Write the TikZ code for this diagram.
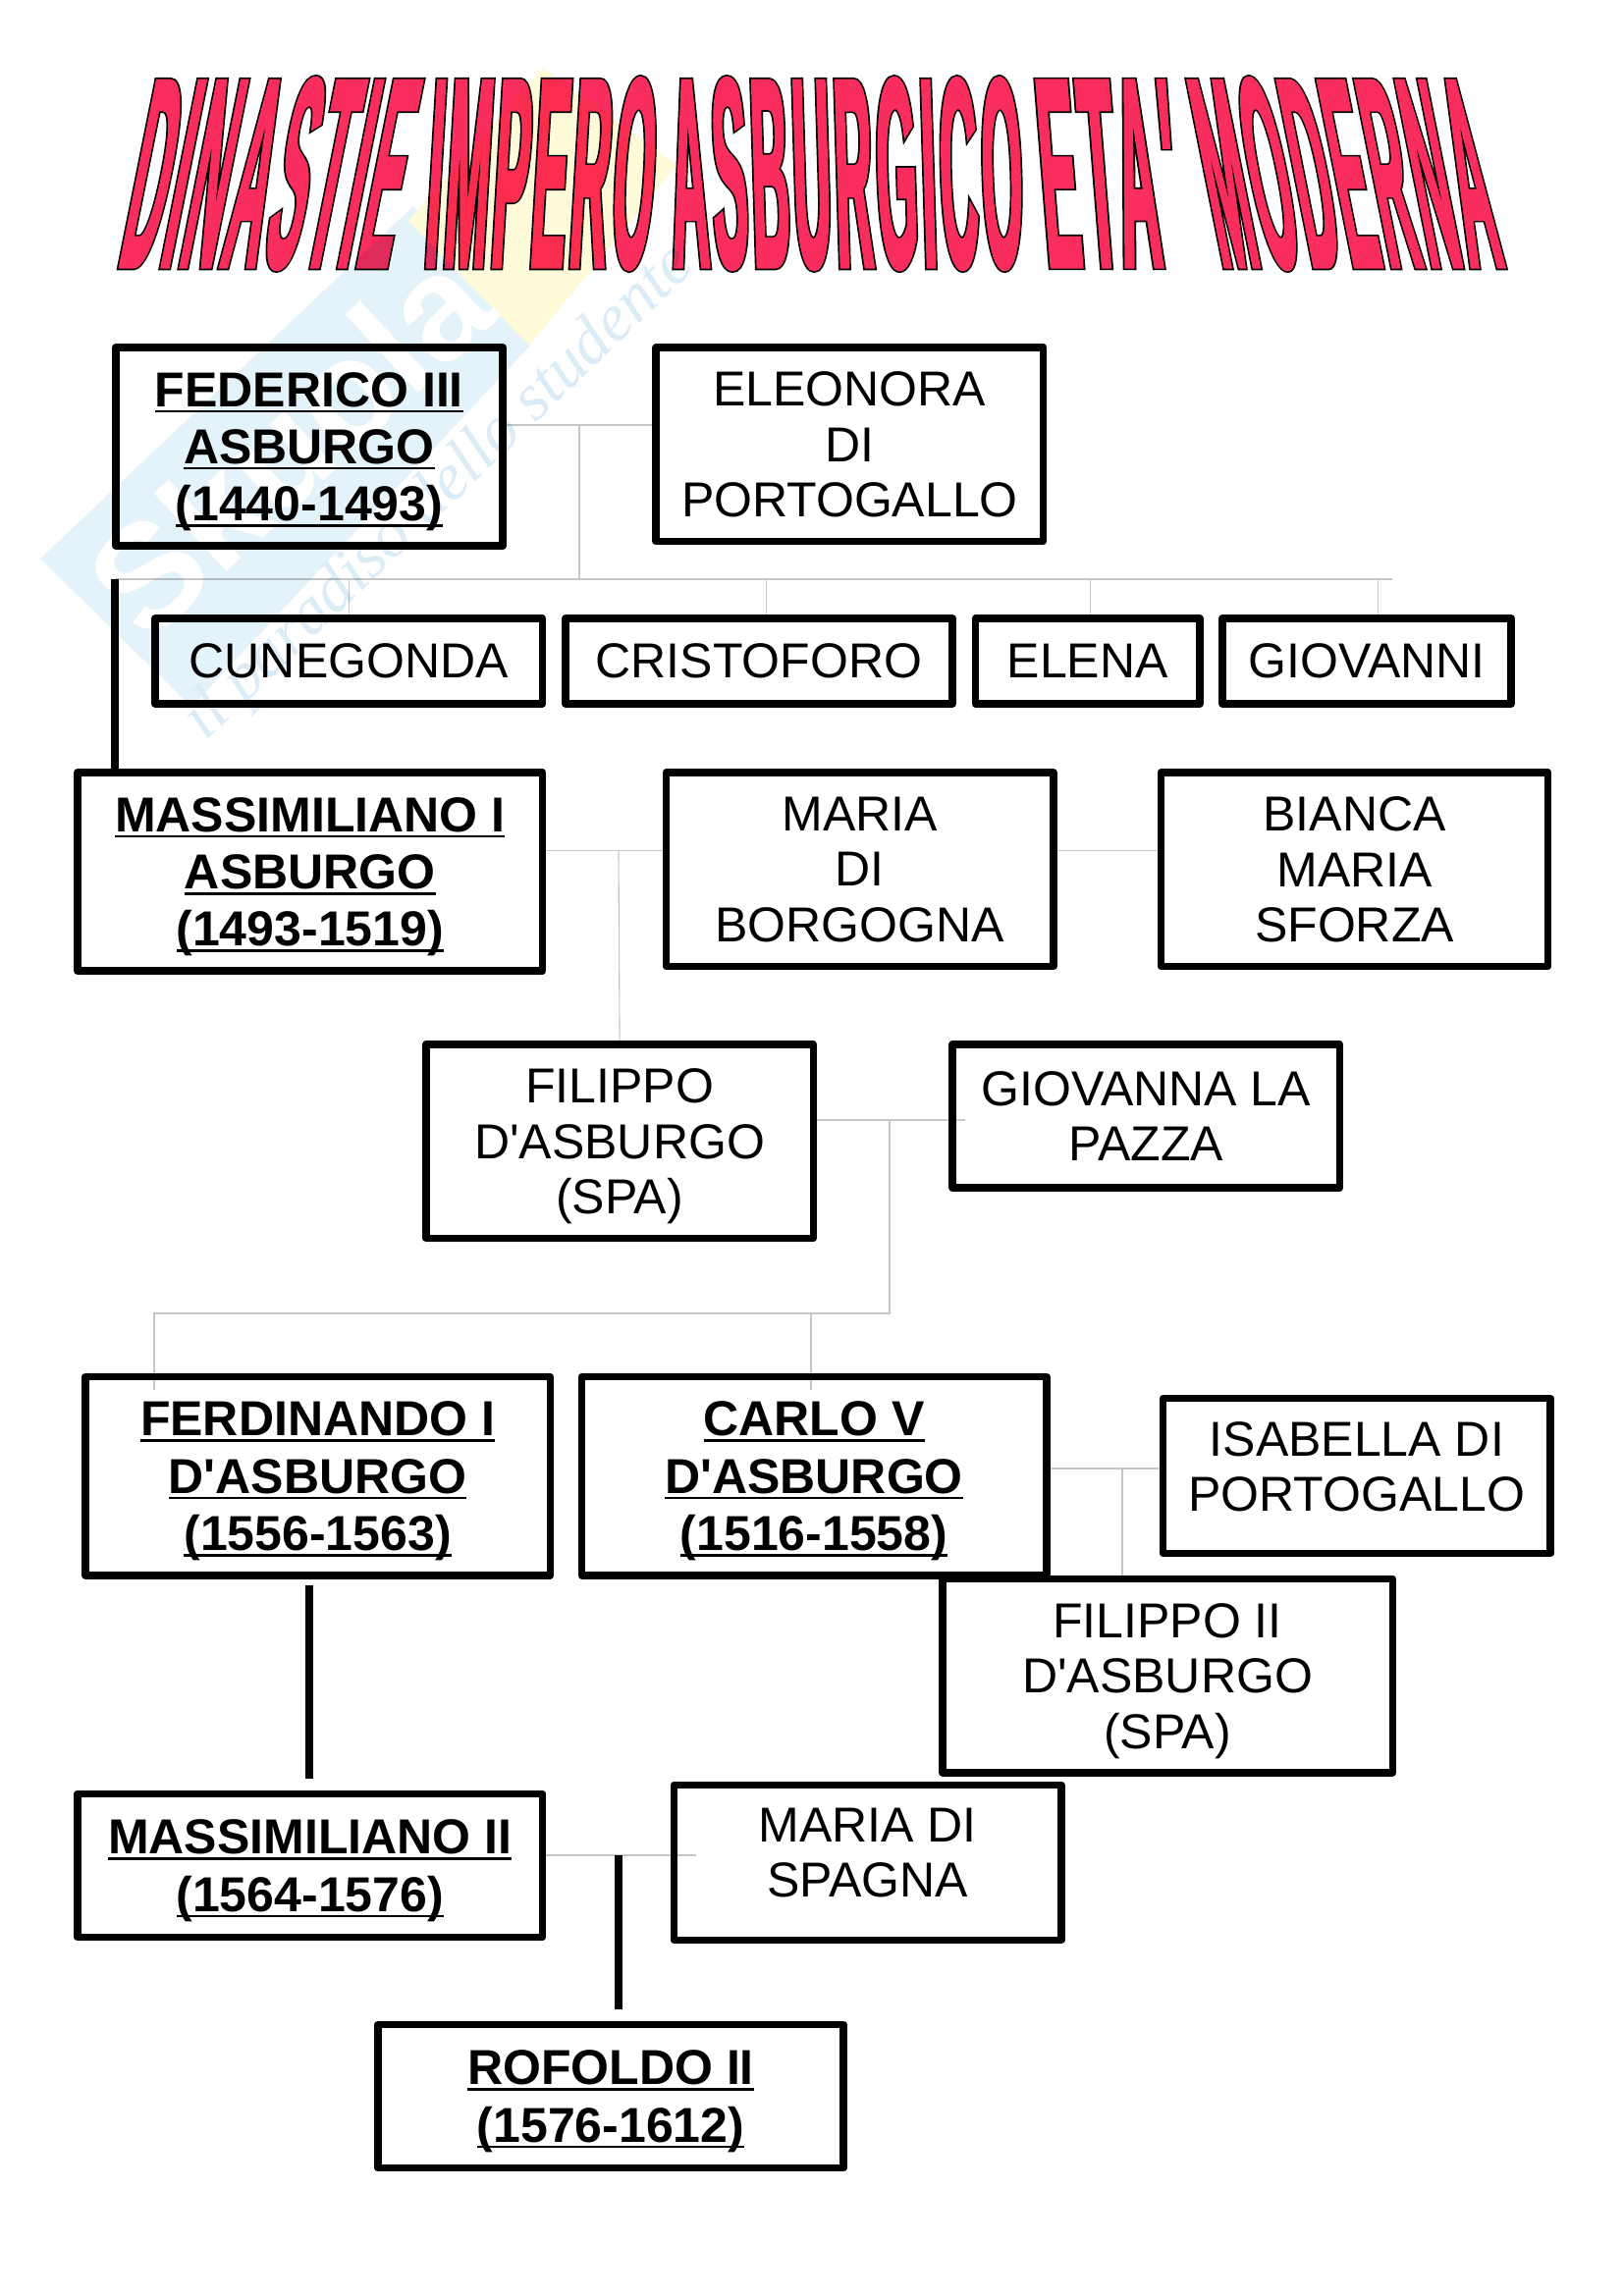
\documentclass[tikz,border=0pt]{standalone}
\usepackage{fontspec}
\setmainfont{Liberation Sans}
\newfontfamily\boxfont{Liberation Sans}
\newfontfamily\titlefont[FakeStretch=0.19, LetterSpace=1.6]{Liberation Sans}
\newfontfamily\slogan{Liberation Serif}
\usetikzlibrary{positioning, backgrounds}
\newsavebox{\rulerbin}
\newcommand{\ruler}[1]{\sbox{\rulerbin}{#1}\rlap{\rule[-2.2pt]{\wd\rulerbin}{0.9pt}}\usebox{\rulerbin}}
\newcommand{\titleink}[1]{\rlap{\special{pdf:code q 2 Tr 1.9 w 0 0 0 RG 0 0 0 rg}#1\special{pdf:code Q}}\special{pdf:code q 2 Tr 0.7 w 0.98 0.18 0.37 RG 0.98 0.18 0.37 rg}#1\special{pdf:code Q}}
\definecolor{waterblue}{HTML}{E4F2FA}
\definecolor{wateryellow}{HTML}{FFFBD9}
\definecolor{sloganblue}{HTML}{DCECF7}

\begin{document}
\begin{tikzpicture}[
    x=0.36pt, y=-0.36pt,
    person/.style={rectangle, draw, line width=2.7pt, line join=round, minimum width=4.99cm, minimum height=2.5cm, align=center, inner sep=0pt, text depth=0pt, font=\fontsize{18}{20.3}\selectfont\boxfont},
    rulerbox/.style={person, minimum width=5.99cm, minimum height=2.56cm, font=\fontsize{18}{21}\selectfont\boxfont\bfseries},
    child/.style={person, minimum height=1.1cm},
    raised/.style={text depth=7pt},
    link/.style={gray!45, line width=0.4pt},
    bloodline/.style={line width=2.7pt},
    titleword/.style={inner sep=0pt, transform shape, font=\fontsize{100}{100}\selectfont\titlefont\bfseries}
]
\useasboundingbox (0,0) rectangle (1653,2339);

% Title
\begin{scope}[shift={(276,177)}, xslant=0.2]
    \node[titleword] (dinastie) {\titleink{DINASTIE}};
\end{scope}
\begin{scope}[shift={(552,177)}, xslant=0.06]
    \node[titleword] (impero) {\titleink{IMPERO}};
\end{scope}
\begin{scope}[shift={(862,177)}, xslant=-0.03]
    \node[titleword] (asburgico) {\titleink{ASBURGICO}};
\end{scope}
\begin{scope}[shift={(1128,177)}, xslant=-0.08, xscale=1.08]
    \node[titleword] (eta) {\titleink{ETA'}};
\end{scope}
\begin{scope}[shift={(1370,177)}, xslant=-0.2, xscale=0.97]
    \node[titleword] (moderna) {\titleink{MODERNA}};
\end{scope}

% Federico and children
\node[rulerbox, minimum width=4.99cm, anchor=north west] (federico) at (114,350) {\ruler{FEDERICO III}\\\ruler{ASBURGO}\\\ruler{(1440-1493)}};
\node[person, right=1.88cm of federico.north east, anchor=north west] (eleonora) {ELEONORA\\DI\\PORTOGALLO};
\node[child, below=0.84cm of federico.south west, anchor=north west, xshift=0.51cm] (cunegonda) {CUNEGONDA};
\node[child, right=0.2cm of cunegonda] (cristoforo) {CRISTOFORO};
\node[child, right=0.2cm of cristoforo, minimum width=2.89cm] (elena) {ELENA};
\node[child, right=0.2cm of elena, minimum width=3.72cm] (giovanni) {GIOVANNI};

% Massimiliano I
\node[rulerbox, below=0.79cm of cunegonda.south west, anchor=north west, xshift=-1cm] (massimiliano) {\ruler{MASSIMILIANO I}\\\ruler{ASBURGO}\\\ruler{(1493-1519)}};
\node[person, right=1.5cm of massimiliano.north east, anchor=north west] (mariab) {MARIA\\DI\\BORGOGNA};
\node[person, right=1.29cm of mariab] (bianca) {BIANCA\\MARIA\\SFORZA};

% Filippo
\node[person, below=0.85cm of massimiliano.south west, anchor=north west, xshift=4.49cm] (filippo) {FILIPPO\\D'ASBURGO\\(SPA)};
\node[person, right=1.7cm of filippo.north east, anchor=north west, minimum height=1.85cm] (giovanna) {GIOVANNA LA\\PAZZA};

% Ferdinando and Carlo
\node[rulerbox, below=1.69cm of filippo.south west, anchor=north west, xshift=-4.39cm] (ferdinando) {\ruler{FERDINANDO I}\\\ruler{D'ASBURGO}\\\ruler{(1556-1563)}};
\node[rulerbox, right=0.31cm of ferdinando] (carlo) {\ruler{CARLO V}\\\ruler{D'ASBURGO}\\\ruler{(1516-1558)}};
\node[person, right=1.41cm of carlo, minimum height=2cm, raised] (isabella) {ISABELLA DI\\PORTOGALLO};
\node[person, below=-0.05cm of carlo.south west, anchor=north west, xshift=4.65cm, minimum width=5.8cm] (filippoii) {FILIPPO II\\D'ASBURGO\\(SPA)};

% Massimiliano II
\node[rulerbox, below=2.72cm of ferdinando.south west, anchor=north west, xshift=-0.1cm, minimum height=1.85cm] (massimilianoii) {\ruler{MASSIMILIANO II}\\\ruler{(1564-1576)}};
\node[person, right=1.6cm of massimilianoii, minimum height=2cm, raised, yshift=0.04cm] (mariasp) {MARIA DI\\SPAGNA};
\node[rulerbox, below=1.03cm of massimilianoii.south west, anchor=north west, xshift=3.87cm, minimum height=1.85cm, minimum width=6cm] (rofoldo) {\ruler{ROFOLDO II}\\\ruler{(1576-1612)}};

% Junctions
\coordinate (weddingA) at (590,433);
\coordinate (childrenA) at (590,590);
\coordinate (childrenEnd) at (1418,590);
\coordinate (weddingB) at (630,866.5);
\coordinate (weddingC) at (906,1141);
\coordinate (giovannaEnd) at (983,1141);
\coordinate (childrenC) at (906,1338);
\coordinate (childrenCEnd) at (157,1338);
\coordinate (ferdinandoDrop) at (157,1416);
\coordinate (carloDrop) at (826,1416);
\coordinate (weddingD) at (1143,1496);
\coordinate (weddingE) at (630,1890);
\coordinate (spagnaEnd) at (709,1890);
\coordinate (federicoLine) at (117,590);
\coordinate (ferdinandoFoot) at (315,1615);
\coordinate (massimilianoHead) at (315,1812);
\coordinate (rofoldoHead) at (630,2047);

% Thin links
\begin{scope}[on background layer]
    \draw[link] (weddingA -| federico.east) -- (weddingA -| eleonora.west);
    \draw[link] (weddingA) -- (childrenA);
    \draw[link] (federicoLine) -- (childrenEnd);
    \draw[link] (cunegonda.north |- childrenA) -- (cunegonda.north);
    \draw[link] ([xshift=0.1cm]cristoforo.north |- childrenA) -- ([xshift=0.1cm]cristoforo.north);
    \draw[link] ([xshift=0.04cm]elena.north |- childrenA) -- ([xshift=0.04cm]elena.north);
    \draw[link] ([xshift=0.14cm]giovanni.north |- childrenA) -- ([xshift=0.14cm]giovanni.north);
    \draw[link] (weddingB -| massimiliano.east) -- (weddingB -| mariab.west);
    \draw[link] (weddingB -| mariab.east) -- (weddingB -| bianca.west);
    \draw[link] (weddingB) -- (filippo.north);
    \draw[link] (weddingC -| filippo.east) -- (giovannaEnd);
    \draw[link] (weddingC) -- (childrenC) -- (childrenCEnd) -- (ferdinandoDrop);
    \draw[link] (carloDrop |- childrenC) -- (carloDrop);
    \draw[link] (weddingD -| carlo.east) -- (weddingD -| isabella.west);
    \draw[link] (weddingD) -- (weddingD |- filippoii.north);
    \draw[link] (weddingE -| massimilianoii.east) -- (spagnaEnd);
\end{scope}

% Descent
\draw[bloodline] (federicoLine) -- (federicoLine |- massimiliano.north);
\draw[bloodline] (ferdinandoFoot) -- (massimilianoHead);
\draw[bloodline] (weddingE) -- (rofoldoHead);

% Watermark
\begin{scope}[transparency group, blend mode=multiply]
    \fill[waterblue] (41,569) -- (421,210) -- (540,352) -- (195,720) -- cycle;
    \fill[wateryellow] (416,225) -- (539,352) -- (690,168) -- (553,69) -- cycle;
    \node[rotate=43, text=white, font=\fontsize{54}{54}\selectfont\bfseries] (logo) at (294,451) {Skuola};
    \node[rotate=44, text=sloganblue, font=\fontsize{24.5}{24.5}\selectfont\slogan\itshape] (motto) at (448,503) {il paradiso dello studente};
\end{scope}
\end{tikzpicture}
\end{document}
